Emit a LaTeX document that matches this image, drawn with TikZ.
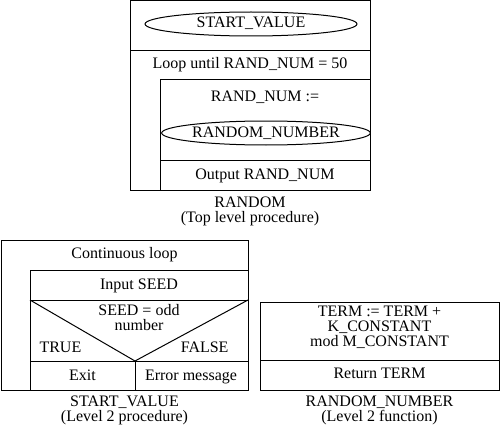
\documentclass[tikz,border=0pt]{standalone}
\usepackage{fontspec}
\setmainfont{Liberation Serif}
\usetikzlibrary{shapes.geometric}

\begin{document}
\begin{tikzpicture}[x=1pt, y=-1pt, line width=1pt,
  every node/.style={font=\fontsize{16}{15}\selectfont, inner sep=0pt, align=center},
  lbl/.style={text height=11pt, text depth=3pt},
  callbox/.style={draw, ellipse, lbl, minimum width=#1, minimum height=24pt}]
\useasboundingbox (0,0) rectangle (501,428);
\draw (130,0.5) rectangle (370,190);
\draw (130,51)--(370,51);
\draw (160,80) rectangle (370,190);
\draw (160,160)--(370,160);
\node[callbox=212] (startcall) at (251,24) {START\_VALUE};
\node[lbl] (loop) at (250,65) {Loop until RAND\_NUM = 50};
\node[lbl] (assign) at (265,98) {RAND\_NUM :=};
\node[callbox=192] (randcall) at (266,133) {RANDOM\_NUMBER};
\node[lbl] (output) at (265,175) {Output RAND\_NUM};
\node (randtitle) at (250,211) {RANDOM\\(Top level procedure)};
\draw (1,240) rectangle (248,390);
\draw (30,270) rectangle (248,390);
\draw (30,300)--(248,300);
\draw (30,361)--(248,361);
\draw (135,361)--(135,390);
\draw (30,300)--(135,361)--(248,300);
\node[lbl] (cont) at (124.5,254) {Continuous loop};
\node[lbl] (input) at (139,285) {Input SEED};
\node (test) at (139,318) {SEED = odd\\number};
\node[lbl, anchor=west] (true) at (39,348) {TRUE};
\node[lbl, anchor=east] (false) at (229,348) {FALSE};
\node[lbl] (exit) at (82.5,376) {Exit};
\node[lbl] (error) at (191,376) {Error message};
\node (starttitle) at (124.5,410) {START\_VALUE\\(Level 2 procedure)};
\draw (260,302) rectangle (499,390);
\draw (260,360)--(499,360);
\node (term) at (379.5,327) {TERM := TERM +\\K\_CONSTANT\\mod M\_CONSTANT};
\node[lbl] (return) at (379.5,374) {Return TERM};
\node (numtitle) at (379.5,410) {RANDOM\_NUMBER\\(Level 2 function)};
\end{tikzpicture}
\end{document}
